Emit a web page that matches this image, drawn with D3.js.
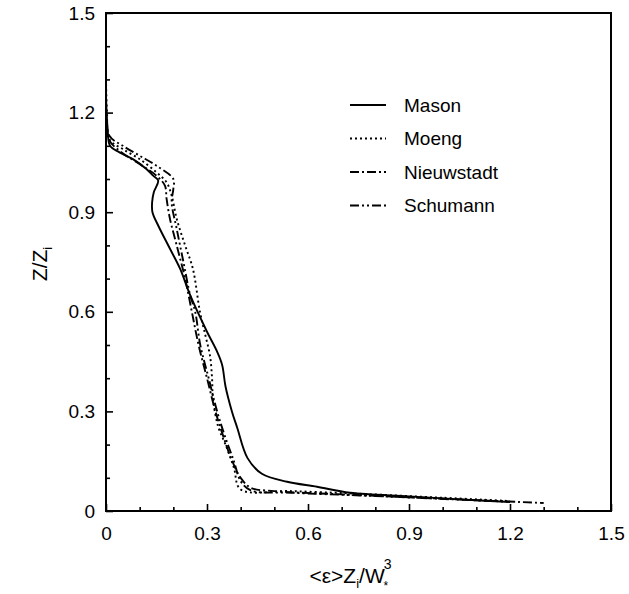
<!DOCTYPE html>
<html>
<head>
<meta charset="utf-8">
<script src="https://cdn.jsdelivr.net/npm/d3@7"></script>
<style>
  body { margin: 0; background: #fff; }
  text { font-family: "Liberation Sans", Arial, sans-serif; fill: #000; }
</style>
</head>
<body>
<script>
// values: [<eps>zi/w*^3, z/zi]
var mason = [[0.0,1.25],[0.005,1.15],[0.012,1.1],[0.04,1.08],[0.08,1.06],[0.12,1.03],[0.14,1.01],[0.155,0.995],[0.142,0.96],[0.137,0.93],[0.138,0.9],[0.155,0.86],[0.19,0.79],[0.22,0.73],[0.25,0.65],[0.3,0.54],[0.33,0.48],[0.345,0.44],[0.355,0.375],[0.374,0.3],[0.39,0.25],[0.42,0.16],[0.463,0.112],[0.538,0.088],[0.627,0.073],[0.725,0.055],[0.9,0.044],[1.05,0.035],[1.2,0.027]]
var moeng = [[0.0,1.3],[0.003,1.2],[0.01,1.12],[0.05,1.09],[0.1,1.06],[0.15,1.02],[0.18,0.99],[0.195,0.95],[0.21,0.88],[0.235,0.8],[0.258,0.73],[0.279,0.6],[0.295,0.53],[0.309,0.467],[0.315,0.4],[0.318,0.336],[0.333,0.255],[0.355,0.2],[0.38,0.13],[0.4,0.065],[0.55,0.06],[0.75,0.052],[1.0,0.04],[1.2,0.03]]
var nieuwstadt = [[0.0,1.22],[0.008,1.12],[0.04,1.085],[0.1,1.045],[0.15,1.01],[0.175,0.98],[0.18,0.94],[0.19,0.88],[0.21,0.8],[0.235,0.7],[0.255,0.6],[0.275,0.5],[0.3,0.4],[0.325,0.3],[0.35,0.22],[0.375,0.15],[0.4,0.1],[0.43,0.07],[0.5,0.06],[0.7,0.05],[1.0,0.037],[1.3,0.024]]
var schumann = [[0.0,1.2],[0.01,1.13],[0.05,1.1],[0.1,1.07],[0.15,1.04],[0.2,1.0],[0.2,0.97],[0.195,0.93],[0.21,0.85],[0.23,0.75],[0.25,0.65],[0.265,0.6],[0.28,0.5],[0.305,0.4],[0.33,0.3],[0.355,0.22],[0.38,0.15],[0.4,0.09],[0.43,0.062],[0.55,0.055],[0.8,0.045],[1.1,0.032],[1.2,0.028]]

var seriesNames = ['Mason', 'Moeng', 'Nieuwstadt', 'Schumann']
var seriesData = [mason, moeng, nieuwstadt, schumann]
var dashes = ['none', '2,3', '9,3,2,3', '9,3,2,3,2,3']

var majorTicks = [0, 0.3, 0.6, 0.9, 1.2, 1.5]
var minorTicks = [0.1, 0.2, 0.4, 0.5, 0.7, 0.8, 1.0, 1.1, 1.3, 1.4]

var margin = {top: 13, right: 18, bottom: 83, left: 106},
  width = 629 - margin.left - margin.right,
  height = 594 - margin.top - margin.bottom

var svg = d3.select('body')
  .append('svg')
  .attr('width', 629)
  .attr('height', 594)

var g = svg.append('g')
  .attr('transform', 'translate(' + margin.left + ',' + margin.top + ')')

var x = d3.scaleLinear().domain([0, 1.5]).range([0, width])
var y = d3.scaleLinear().domain([0, 1.5]).range([height, 0])

var fmt = function (d) { return d === 0 ? '0' : d3.format('.1f')(d) }

// major ticks with labels (ticks point inward)
g.append('g')
  .attr('transform', 'translate(0,' + height + ')')
  .call(d3.axisBottom(x).tickValues(majorTicks).tickSizeInner(-7).tickSizeOuter(0).tickPadding(16).tickFormat(fmt))
g.append('g')
  .call(d3.axisLeft(y).tickValues(majorTicks).tickSizeInner(-7).tickSizeOuter(0).tickPadding(11).tickFormat(fmt))

// minor ticks
g.append('g')
  .attr('transform', 'translate(0,' + height + ')')
  .call(d3.axisBottom(x).tickValues(minorTicks).tickSizeInner(-4).tickSizeOuter(0).tickFormat(''))
g.append('g')
  .call(d3.axisLeft(y).tickValues(minorTicks).tickSizeInner(-4).tickSizeOuter(0).tickFormat(''))

g.selectAll('.domain').remove()
g.selectAll('.tick line').attr('stroke', '#000').attr('stroke-width', 1.6)
g.selectAll('.tick text').style('font-size', '19px').style('font-family', '"Liberation Sans", Arial, sans-serif')

// frame
g.append('rect')
  .attr('width', width)
  .attr('height', height)
  .attr('fill', 'none')
  .attr('stroke', '#000')
  .attr('stroke-width', 2)

var line = d3.line()
  .x(function (d) { return x(d[0]) })
  .y(function (d) { return y(d[1]) })
  .curve(d3.curveCatmullRom.alpha(0.5))

seriesData.forEach(function (s, i) {
  g.append('path')
    .datum(s)
    .attr('d', line)
    .attr('fill', 'none')
    .attr('stroke', '#000')
    .attr('stroke-width', 1.9)
    .attr('stroke-dasharray', dashes[i])
})

// legend
var legend = g.append('g')
  .attr('transform', 'translate(' + (350 - margin.left) + ',' + (105 - margin.top) + ')')
seriesNames.forEach(function (name, i) {
  var row = legend.append('g').attr('transform', 'translate(0,' + (i * 33.5) + ')')
  row.append('line')
    .attr('x1', 0).attr('x2', 36)
    .attr('stroke', '#000').attr('stroke-width', 1.8)
    .attr('stroke-dasharray', dashes[i])
  row.append('text')
    .attr('x', 54).attr('dy', '0.35em')
    .style('font-size', '19px')
    .text(name)
})

// axis titles
var xt = svg.append('text')
  .attr('x', margin.left + width / 2 - 8)
  .attr('y', 583)
  .attr('text-anchor', 'middle')
  .style('font-size', '21px')
xt.append('tspan').text('<\u03b5>Z')
xt.append('tspan').attr('dy', 5).style('font-size', '13px').text('i')
xt.append('tspan').attr('dy', -5).text('/W')
xt.append('tspan').attr('dy', -14).attr('dx', -1).style('font-size', '14px').text('3')
xt.append('tspan').attr('dy', 21).attr('dx', -8).style('font-size', '12px').text('*')

var yt = svg.append('text')
  .attr('transform', 'translate(47,' + (margin.top + height / 2 + 2) + ') rotate(-90)')
  .attr('text-anchor', 'middle')
  .style('font-size', '21px')
yt.append('tspan').text('Z/Z')
yt.append('tspan').attr('dy', 5).style('font-size', '13px').text('i')
</script>
</body>
</html>
